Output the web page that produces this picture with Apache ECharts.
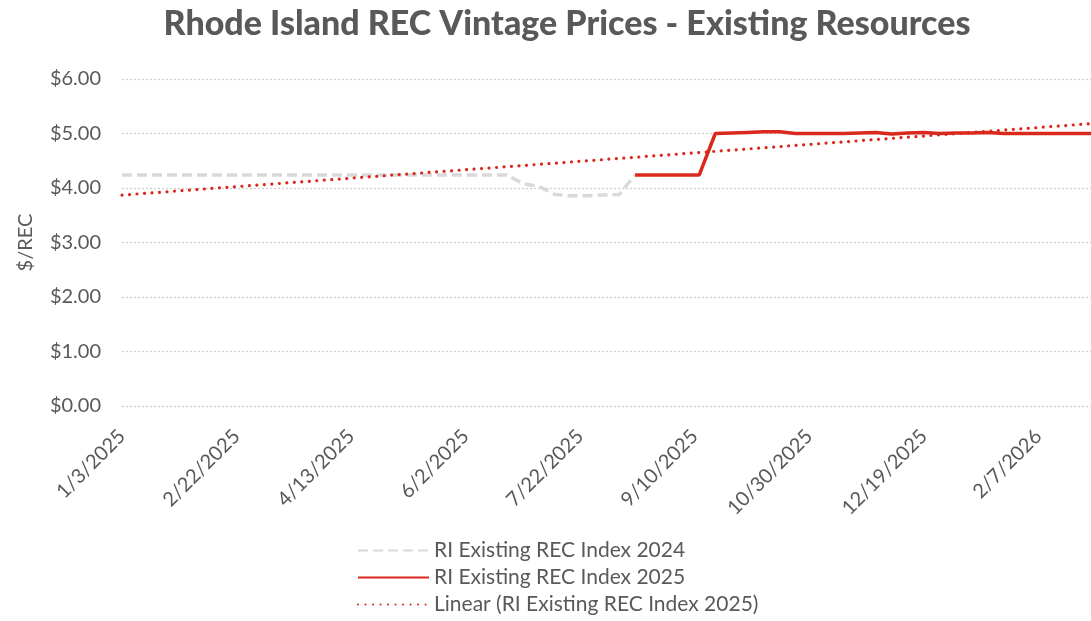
<!DOCTYPE html>
<html>
<head>
<meta charset="utf-8">
<script src="https://cdn.jsdelivr.net/npm/echarts@6/dist/echarts.min.js"></script>
<style>
html,body{margin:0;padding:0;background:#fff;}
#chart{width:1091px;height:621px;}
</style>
</head>
<body>
<div id="chart"></div>
<script>
// ---- Data ----
const startDate = '2025-01-03';
const endDate = '2026-03-02';
const tickIntervalDays = 50;

const dates2024 = ['2025-01-03','2025-01-31','2025-02-28','2025-03-28','2025-04-25','2025-05-23','2025-06-20','2025-06-27','2025-07-04','2025-07-11','2025-07-18','2025-07-25','2025-08-01','2025-08-08','2025-08-15'];
const values2024 = [4.24,4.24,4.24,4.24,4.24,4.24,4.24,4.08,4.03,3.88,3.86,3.86,3.87,3.88,4.24];

const dates2025 = ['2025-08-15','2025-08-22','2025-08-29','2025-09-05','2025-09-12','2025-09-19','2025-09-26','2025-10-03','2025-10-10','2025-10-17','2025-10-24','2025-10-31','2025-11-07','2025-11-14','2025-11-21','2025-11-28','2025-12-05','2025-12-12','2025-12-19','2025-12-26','2026-01-02','2026-01-09','2026-01-16','2026-01-23','2026-01-30','2026-02-06','2026-02-13','2026-02-20','2026-02-27','2026-03-02'];
const values2025 = [4.24,4.24,4.24,4.24,4.24,5.00,5.01,5.02,5.03,5.03,5.00,5.00,5.00,5.00,5.01,5.02,4.99,5.01,5.02,5.00,5.01,5.01,5.02,5.00,5.00,5.00,5.00,5.00,5.00,5.00];

const trendDates = ['2025-01-03','2026-03-02'];
const trendValues = [3.87,5.18];

const yTicks = [0,1,2,3,4,5,6];

const seriesNames = ['RI Existing REC Index 2024','RI Existing REC Index 2025','Linear (RI Existing REC Index 2025)'];

// ---- Helpers ----
function dayOffset(s){
  const p = s.split('-').map(Number);
  const q = startDate.split('-').map(Number);
  return Math.round((Date.UTC(p[0],p[1]-1,p[2]) - Date.UTC(q[0],q[1]-1,q[2]))/86400000);
}
function fmtDay(d){
  const q = startDate.split('-').map(Number);
  const dt = new Date(Date.UTC(q[0],q[1]-1,q[2]) + d*86400000);
  return (dt.getUTCMonth()+1)+'/'+dt.getUTCDate()+'/'+dt.getUTCFullYear();
}
function pairs(ds, vs){ return ds.map((d,i)=>[dayOffset(d), vs[i]]); }

const FONT = 'Lato, "Open Sans", sans-serif';
const TXT = '#595959';
const RED = '#DA291C';

const chart = echarts.init(document.getElementById('chart'), null, {renderer:'canvas'});
chart.setOption({
  animation:false,
  backgroundColor:'#fff',
  title:{
    text:'Rhode Island REC Vintage Prices - Existing Resources',
    left:562, top:2, textAlign:'center',
    textStyle:{fontFamily:FONT, fontWeight:900, fontSize:34, color:TXT}
  },
  grid:{left:122, right:0, top:79, bottom:215, containLabel:false},
  xAxis:{
    type:'value', min:0, max:dayOffset(endDate), interval:tickIntervalDays,
    axisLine:{show:false}, axisTick:{show:false}, splitLine:{show:false},
    axisLabel:{
      rotate:45, margin:27, fontFamily:FONT, fontSize:20, color:TXT,
      showMaxLabel:false,
      formatter:(v)=> fmtDay(v)
    }
  },
  yAxis:{
    type:'value', min:yTicks[0], max:yTicks[yTicks.length-1], interval:1,
    name:'$/REC', nameLocation:'middle', nameGap:86, nameRotate:90,
    nameTextStyle:{fontFamily:FONT, fontSize:20, color:TXT},
    axisLine:{show:false}, axisTick:{show:false},
    axisLabel:{margin:21, fontFamily:FONT, fontSize:20, color:TXT, formatter:(v)=>'$'+v.toFixed(2)},
    splitLine:{lineStyle:{color:'#D0D0D0', type:[2,2], width:1.3}}
  },
  legend:{
    orient:'vertical', left:357, top:540, padding:0, height:90, itemWidth:71, itemHeight:12, itemGap:6,
    itemStyle:{color:'transparent', borderColor:'transparent', borderWidth:0, opacity:0},
    textStyle:{fontFamily:FONT, fontSize:21, color:TXT},
    data:seriesNames
  },
  series:[
    {name:seriesNames[0], type:'line', symbol:'none', data:pairs(dates2024, values2024),
     lineStyle:{color:'#D9D9D9', width:3.5, type:[10,5]}, itemStyle:{color:'#D9D9D9'}},
    {name:seriesNames[1], type:'line', symbol:'none', data:pairs(dates2025, values2025),
     lineStyle:{color:RED, width:3.5, type:'solid'}, itemStyle:{color:RED}, z:3},
    {name:seriesNames[2], type:'line', symbol:'none', data:pairs(trendDates, trendValues),
     lineStyle:{color:RED, width:3.2, type:[0.01,7.5], cap:'round'}, itemStyle:{color:RED}, z:4}
  ]
});
</script>
</body>
</html>
